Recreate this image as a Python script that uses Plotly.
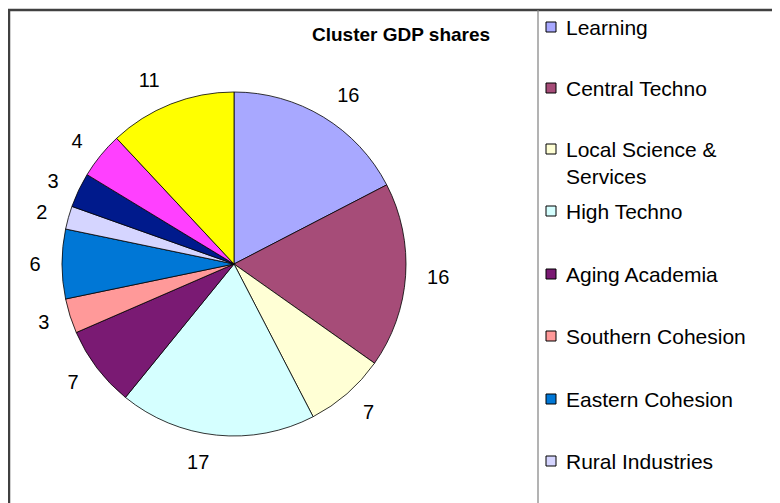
import plotly.graph_objects as go

# page body has an 8px margin; the figure is placed at (8, 8) in the window
OFF = 8
W, H = 780 - OFF, 503 - OFF

clusters = ["Learning", "Central Techno", "Local Science &<br>Services", "High Techno",
            "Aging Academia", "Southern Cohesion", "Eastern Cohesion", "Rural Industries",
            "Cluster 9", "Cluster 10", "Cluster 11"]
shares = [16, 16, 7, 17, 7, 3, 6, 2, 3, 4, 11]
colors = ["#A8A8FF", "#A64C78", "#FFFFD5", "#D5FFFF", "#7A1A73", "#FF9999",
          "#0077D6", "#D5D5FF", "#001A8C", "#FF40FF", "#FFFF00"]
legend_count = 8  # only the first 8 legend entries are visible in the frame

FONT = "Liberation Sans, Arial, sans-serif"

def px_x(x):
    return (x - OFF) / W

def px_y(y):
    return 1 - (y - OFF) / H

def square_domain(cx, cy, rad):
    return dict(x=[px_x(cx - rad), px_x(cx + rad)], y=[px_y(cy + rad), px_y(cy - rad)])

cx, cy, r = 234, 264, 172
r_text = r + 16  # data labels sit a little further out than the pie's rim

fig = go.Figure()
# the pie itself
fig.add_trace(go.Pie(
    labels=clusters,
    values=shares,
    textinfo="none",
    sort=False,
    direction="clockwise",
    rotation=0,
    marker=dict(colors=colors, line=dict(color="#000000", width=0.8)),
    domain=square_domain(cx, cy, r),
    showlegend=False,
    hoverinfo="label+value",
))
# same values, transparent, only carrying the outside value labels
fig.add_trace(go.Pie(
    labels=clusters,
    values=shares,
    text=[str(v) for v in shares],
    textinfo="text",
    textposition="outside",
    sort=False,
    direction="clockwise",
    rotation=0,
    marker=dict(colors=["rgba(0,0,0,0)"] * len(shares), line=dict(width=0)),
    outsidetextfont=dict(family=FONT, size=20, color="#000000"),
    domain=square_domain(cx, cy, r_text),
    showlegend=False,
    hoverinfo="skip",
))

shapes = [
    # outer frame (right/bottom edges lie outside the visible area)
    dict(type="rect", xref="paper", yref="paper", x0=px_x(9), x1=px_x(820),
         y0=px_y(540), y1=px_y(10), line=dict(color="#404040", width=2.5)),
    # legend separator
    dict(type="line", xref="paper", yref="paper", x0=px_x(538), x1=px_x(538),
         y0=px_y(540), y1=px_y(10), line=dict(color="#808080", width=1.2)),
]
annotations = [
    dict(text="<b>Cluster GDP shares</b>", x=px_x(401), y=px_y(34), xref="paper", yref="paper",
         showarrow=False, xanchor="center", yanchor="middle",
         font=dict(family=FONT, size=19, color="#000000")),
]

legend_y = [27, 88, 149, 211, 274, 336, 399, 461]
for i in range(legend_count):
    y = legend_y[i]
    shapes.append(dict(type="rect", xref="paper", yref="paper",
                       x0=px_x(546), x1=px_x(556), y0=px_y(y + 5), y1=px_y(y - 5),
                       fillcolor=colors[i], line=dict(color="#000000", width=1)))
    annotations.append(dict(text=clusters[i], x=px_x(564), y=px_y(y - 13), xref="paper", yref="paper",
                            showarrow=False, xanchor="left", yanchor="top", align="left",
                            font=dict(family=FONT, size=21, color="#000000")))

fig.update_layout(
    width=W, height=H,
    margin=dict(l=0, r=0, t=0, b=0),
    paper_bgcolor="#FFFFFF",
    plot_bgcolor="#FFFFFF",
    shapes=shapes,
    annotations=annotations,
)

fig.write_html("out.html")
